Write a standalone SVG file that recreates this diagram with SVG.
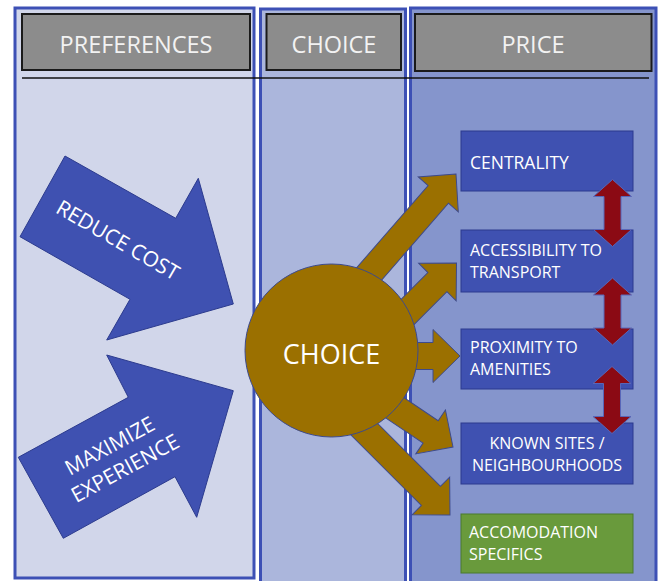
<svg xmlns="http://www.w3.org/2000/svg" width="659" height="581" viewBox="0 0 659 581">
  <style>
    .col { stroke: #3d50b5; stroke-width: 3; }
    .hdr { fill: #8c8c8c; stroke: #1a1a1a; stroke-width: 2; }
    .hdr-txt { font-family: "Open Sans", "Liberation Sans", sans-serif; font-size: 23.5px; fill: #f2f2f2; text-anchor: middle; }
    .pref { fill: #3f51b1; stroke: #2c3b8e; stroke-width: 1; }
    .pref-txt { font-family: "Open Sans", "Liberation Sans", sans-serif; font-size: 21px; fill: #ffffff; text-anchor: middle; }
    .gold { fill: #9b7000; stroke: #3d4a8c; stroke-width: 1; }
    .red { fill: #8b0a14; stroke: #5866b8; stroke-width: 1; }
    .box { fill: #3f51b1; stroke: #2c3b8e; stroke-width: 1; }
    .box-green { fill: #699a3c; stroke: #4a7a2c; stroke-width: 1; }
    .box-txt { font-family: "Open Sans", "Liberation Sans", sans-serif; font-size: 16px; fill: #ffffff; }
    .circle-txt { font-family: "Open Sans", "Liberation Sans", sans-serif; font-size: 27px; fill: #ffffff; text-anchor: middle; }
  </style>
  <defs>
    <!-- block arrow, tip at the origin, pointing along +x -->
    <path id="goldArrow" d="M0,0 L-27,-26.5 L-27,-13.5 L-170,-13.5 L-170,13.5 L-27,13.5 L-27,26.5 Z"/>
    <!-- vertical two-headed arrow, 67 long -->
    <path id="dblArrow" d="M0,0 L19,17 L8.5,17 L8.5,50 L19,50 L0,67 L-19,50 L-8.5,50 L-8.5,17 L-19,17 Z"/>
  </defs>

  <rect width="659" height="581" fill="#ffffff"/>

  <!-- columns -->
  <g id="column-preferences">
    <rect class="col" x="15" y="8" width="239" height="570" fill="#d1d6ea"/>
    <rect class="hdr" x="22" y="14" width="228" height="56"/>
    <text class="hdr-txt" x="136" y="52.5">PREFERENCES</text>
  </g>
  <g id="column-choice">
    <rect class="col" x="260.5" y="9" width="145" height="575" fill="#abb6dc"/>
    <rect class="hdr" x="266.5" y="14" width="134.5" height="56"/>
    <text class="hdr-txt" x="334" y="52.5">CHOICE</text>
  </g>
  <g id="column-price">
    <rect class="col" x="410.5" y="8" width="245.5" height="576" fill="#8595cc"/>
    <rect class="hdr" x="415" y="14" width="236.5" height="57"/>
    <text class="hdr-txt" x="533" y="52.5">PRICE</text>
  </g>

  <line x1="22" y1="78" x2="649" y2="78" stroke="#111111" stroke-width="1.5"/>

  <!-- preference arrows -->
  <g id="reduce-cost">
    <polygon class="pref" points="65,156 175.7,218.3 198.3,178.3 233.3,304 106.7,340 130,299.3 20,236.7"/>
    <text class="pref-txt" transform="translate(118,240) rotate(30)" x="0" y="7.5">REDUCE COST</text>
  </g>
  <g id="maximize-experience">
    <polygon class="pref" points="18.3,457.3 128.3,397.3 106.7,355 233.3,390.7 196.7,517.3 175,476.7 63.3,538.3"/>
    <text class="pref-txt" transform="translate(118.7,456.7) rotate(-28.6)">
      <tspan x="0" y="-6.5">MAXIMIZE</tspan>
      <tspan x="0" y="20.5">EXPERIENCE</tspan>
    </text>
  </g>

  <!-- connectors from the choice circle to the price factors -->
  <g id="connectors">
    <use href="#goldArrow" class="gold" transform="translate(456,174) rotate(-49)"/>
    <use href="#goldArrow" class="gold" transform="translate(456.5,263) rotate(-45)"/>
    <use href="#goldArrow" class="gold" transform="translate(460,356) rotate(0)"/>
    <use href="#goldArrow" class="gold" transform="translate(453,447) rotate(34)"/>
    <use href="#goldArrow" class="gold" transform="translate(450,515) rotate(45)"/>
  </g>

  <g id="choice">
    <circle class="gold" cx="331.5" cy="350.5" r="86.5"/>
    <text class="circle-txt" x="331.5" y="364">CHOICE</text>
  </g>

  <!-- price factors -->
  <g id="centrality">
    <rect class="box" x="461" y="131" width="172" height="60"/>
    <text class="box-txt" x="470" y="169" style="font-size:17.5px">CENTRALITY</text>
  </g>
  <g id="accessibility">
    <rect class="box" x="461" y="230" width="172" height="62"/>
    <text class="box-txt" x="470" y="256">ACCESSIBILITY TO</text>
    <text class="box-txt" x="470" y="277.7">TRANSPORT</text>
  </g>
  <g id="proximity">
    <rect class="box" x="461" y="329" width="172" height="60"/>
    <text class="box-txt" x="470" y="353.3">PROXIMITY TO</text>
    <text class="box-txt" x="470" y="375">AMENITIES</text>
  </g>
  <g id="known-sites">
    <rect class="box" x="461" y="423" width="172" height="61"/>
    <text class="box-txt" x="547" y="449" text-anchor="middle">KNOWN SITES /</text>
    <text class="box-txt" x="547" y="470.5" text-anchor="middle">NEIGHBOURHOODS</text>
  </g>
  <g id="accommodation">
    <rect class="box-green" x="461" y="514" width="172" height="59"/>
    <text class="box-txt" x="469" y="538.3">ACCOMODATION</text>
    <text class="box-txt" x="469" y="560">SPECIFICS</text>
  </g>

  <!-- links between neighbouring factors -->
  <g id="factor-links">
    <use href="#dblArrow" class="red" transform="translate(612.5,179.5)"/>
    <use href="#dblArrow" class="red" transform="translate(612.5,278)"/>
    <use href="#dblArrow" class="red" transform="translate(612,366.5)"/>
  </g>
</svg>
